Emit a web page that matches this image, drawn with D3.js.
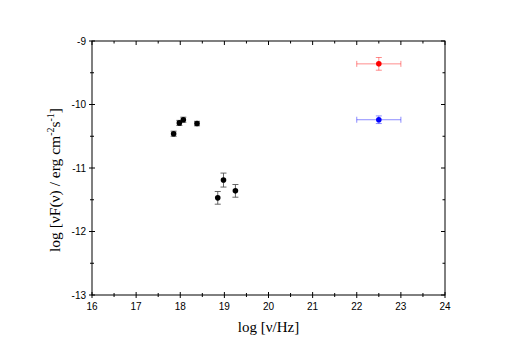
<!DOCTYPE html>
<html><head><meta charset="utf-8">
<script src="https://cdn.jsdelivr.net/npm/d3@7"></script>
<style>body{margin:0;background:#fff}svg{display:block}</style>
</head><body>
<script>
// X-ray points (black)
const xrayLogNu = [17.85, 17.98, 18.07, 18.38, 18.98, 18.85, 19.25];
const xrayLogFlux = [-10.46, -10.29, -10.24, -10.30, -11.19, -11.47, -11.36];
const xrayErr = [0.04, 0.04, 0.04, 0.035, 0.11, 0.10, 0.10];
// Gamma-ray points
const gammaLogNu = [22.5, 22.5];
const gammaLogFlux = [-9.36, -10.24];
const gammaXErr = [0.5, 0.5];
const gammaYErr = [0.1, 0.06];
const gammaColors = ["#ff0000", "#0000ff"];
const xTicks = [16, 17, 18, 19, 20, 21, 22, 23, 24];
const yTicks = [-9, -10, -11, -12, -13];

const W = 518, H = 354;
const m = {left: 92, right: 73, top: 41, bottom: 59};
const svg = d3.select("body").append("svg").attr("width", W).attr("height", H);
const x = d3.scaleLinear().domain([16, 24]).range([m.left, W - m.right]);
const y = d3.scaleLinear().domain([-13, -9]).range([H - m.bottom, m.top]);

const minorX = d3.range(16.5, 24, 1);
const minorY = d3.range(-12.5, -9, 1);
const tickFont = "Liberation Sans, Arial, sans-serif";

svg.append("rect").attr("x", x(16)).attr("y", y(-9)).attr("width", x(24) - x(16)).attr("height", y(-13) - y(-9))
  .attr("fill", "none").attr("stroke", "#000").attr("stroke-width", 1);

const g = svg.append("g").attr("stroke", "#000").attr("stroke-width", 1);
xTicks.forEach(v => g.append("line").attr("x1", x(v)).attr("x2", x(v)).attr("y1", y(-13) - 3).attr("y2", y(-13) + 3));
minorX.forEach(v => g.append("line").attr("x1", x(v)).attr("x2", x(v)).attr("y1", y(-13) - 2).attr("y2", y(-13) + 2));
xTicks.forEach(v => g.append("line").attr("x1", x(v)).attr("x2", x(v)).attr("y1", y(-9)).attr("y2", y(-9) + 4));
minorX.forEach(v => g.append("line").attr("x1", x(v)).attr("x2", x(v)).attr("y1", y(-9)).attr("y2", y(-9) + 2.5));
yTicks.forEach(v => g.append("line").attr("x1", x(16) - 3).attr("x2", x(16) + 3).attr("y1", y(v)).attr("y2", y(v)));
minorY.forEach(v => g.append("line").attr("x1", x(16) - 2).attr("x2", x(16) + 2).attr("y1", y(v)).attr("y2", y(v)));
yTicks.forEach(v => g.append("line").attr("x1", x(24) - 4).attr("x2", x(24)).attr("y1", y(v)).attr("y2", y(v)));
minorY.forEach(v => g.append("line").attr("x1", x(24) - 2.5).attr("x2", x(24)).attr("y1", y(v)).attr("y2", y(v)));

svg.selectAll(".xl").data(xTicks).enter().append("text")
  .attr("x", d => x(d)).attr("y", y(-13) + 15).attr("text-anchor", "middle")
  .attr("font-family", tickFont).attr("font-size", 10).text(d => d);
svg.selectAll(".yl").data(yTicks).enter().append("text")
  .attr("x", x(16) - 6).attr("y", d => y(d) + 3.5).attr("text-anchor", "end")
  .attr("font-family", tickFont).attr("font-size", 10).text(d => d);

const serif = "Liberation Serif, Times New Roman, serif";
svg.append("text").attr("x", (x(16) + x(24)) / 2).attr("y", 332).attr("text-anchor", "middle")
  .attr("font-family", serif).attr("font-size", 15).text("log [ν/Hz]");
const yt = svg.append("text").attr("transform", `translate(60,${(y(-9) + y(-13)) / 2 + 12}) rotate(-90)`)
  .attr("text-anchor", "middle").attr("font-family", serif).attr("font-size", 15.5);
yt.append("tspan").text("log [νF(ν) / erg cm");
yt.append("tspan").attr("dy", -6).attr("font-size", 10).text("-2");
yt.append("tspan").attr("dy", 6).text("s");
yt.append("tspan").attr("dy", -6).attr("font-size", 10).text("-1");
yt.append("tspan").attr("dy", 6).text("]");

const xr = xrayLogNu.map((v, i) => ({x: v, y: xrayLogFlux[i], e: xrayErr[i]}));
const eb = svg.append("g").attr("stroke", "#555").attr("stroke-width", 0.9);
xr.forEach(d => {
  eb.append("line").attr("x1", x(d.x)).attr("x2", x(d.x)).attr("y1", y(d.y - d.e)).attr("y2", y(d.y + d.e));
  [d.y - d.e, d.y + d.e].forEach(v => eb.append("line").attr("x1", x(d.x) - 3).attr("x2", x(d.x) + 3).attr("y1", y(v)).attr("y2", y(v)));
});
svg.selectAll(".xp").data(xr).enter().append("circle")
  .attr("cx", d => x(d.x)).attr("cy", d => y(d.y)).attr("r", 2.8).attr("fill", "#000");

gammaLogNu.forEach((v, i) => {
  const c = gammaColors[i];
  const gg = svg.append("g").attr("stroke", c).attr("stroke-opacity", 0.45).attr("stroke-width", 1);
  const x0 = x(v - gammaXErr[i]), x1 = x(v + gammaXErr[i]);
  const yc = y(gammaLogFlux[i]);
  gg.append("line").attr("x1", x0).attr("x2", x1).attr("y1", yc).attr("y2", yc);
  [x0, x1].forEach(xx => gg.append("line").attr("x1", xx).attr("x2", xx).attr("y1", yc - 3).attr("y2", yc + 3));
  const y0 = y(gammaLogFlux[i] - gammaYErr[i]), y1 = y(gammaLogFlux[i] + gammaYErr[i]);
  gg.append("line").attr("x1", x(v)).attr("x2", x(v)).attr("y1", y0).attr("y2", y1);
  [y0, y1].forEach(yy => gg.append("line").attr("x1", x(v) - 3).attr("x2", x(v) + 3).attr("y1", yy).attr("y2", yy));
  svg.append("circle").attr("cx", x(v)).attr("cy", yc).attr("r", 2.8).attr("fill", c);
});
</script>
</body></html>
